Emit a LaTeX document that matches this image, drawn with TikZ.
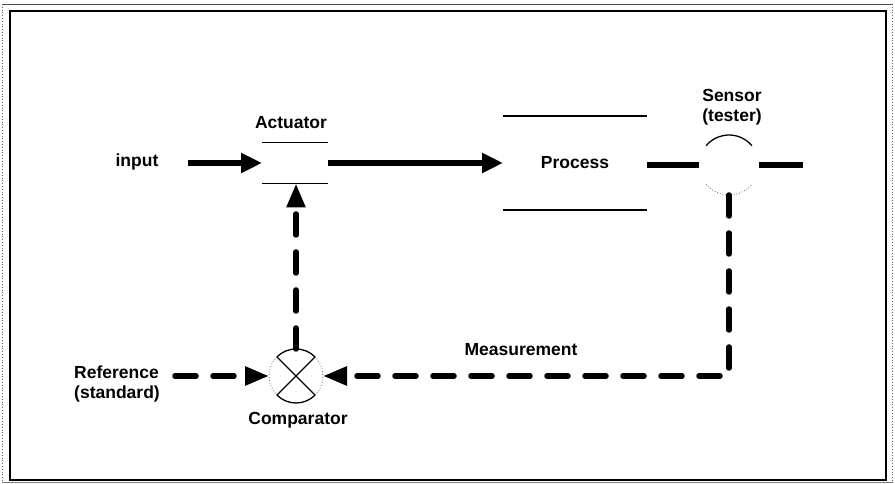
\documentclass[tikz,border=0pt]{standalone}
\usepackage{fontspec}
\setmainfont{Liberation Sans}
\usetikzlibrary{arrows.meta}
\begin{document}
\begin{tikzpicture}[x=1pt,y=1pt,
  lbl/.style={font=\fontsize{17.5}{20}\selectfont\bfseries, inner sep=0pt},
  flow/.style={line width=5.5pt, -{Triangle[length=21pt,width=19pt]}},
  fb/.style={line width=5.5pt, line cap=round, dash pattern=on 21pt off 17pt,
             -{Triangle[length=24pt,width=18pt]}},
  thinline/.style={line width=1.3pt},
  faint/.style={line width=0.8pt, dotted, black!60},
  blk/.style={inner sep=0pt, outer sep=0pt},
  ring/.style={circle, inner sep=0pt, outer sep=0pt}]
\useasboundingbox (0,0) rectangle (895,484);

% page frame
\draw[line width=1.6pt] (10,473) rectangle (886,4);
\draw[line width=0.8pt, black!70] (2,480) -- (893,480);
\draw[line width=0.6pt, black!50] (2,1.5) -- (893,1.5);
\draw[faint] (2.5,480) -- (2.5,2);
\draw[faint] (892.5,480) -- (892.5,2);

% blocks
\node[blk, minimum width=66pt, minimum height=41pt] (act) at (295,321) {};
\draw[thinline] (act.north west) -- (act.north east);
\draw[thinline] (act.south west) -- (act.south east);
\node[lbl] (actlbl) at (291,361) {Actuator};

\node[blk, minimum width=144pt, minimum height=94pt] (proc) at (575,321) {};
\draw[thinline] (proc.north west) -- (proc.north east);
\draw[thinline] (proc.south west) -- (proc.south east);
\node[lbl] (proclbl) at (proc.center) {Process};

\node[ring, minimum size=60pt] (sens) at (729,319) {};
\draw[thinline] (sens.40) arc[start angle=40, end angle=140, radius=30pt];
\draw[faint] (sens.220) arc[start angle=220, end angle=320, radius=30pt];
\node[lbl, align=center] (senslbl) at (732,377) {Sensor\\(tester)};

\node[ring, minimum size=54pt] (comp) at (296,108) {};
\draw[thinline] (comp.45) arc[start angle=45, end angle=135, radius=27pt];
\draw[thinline] (comp.225) arc[start angle=225, end angle=315, radius=27pt];
\draw[faint] (comp.135) arc[start angle=135, end angle=225, radius=27pt];
\draw[faint] (comp.-45) arc[start angle=-45, end angle=45, radius=27pt];
\draw[thinline] (comp.45) -- (comp.225);
\draw[thinline] (comp.135) -- (comp.315);
\node[lbl] (complbl) at (298,64) {Comparator};

% labels
\node[lbl] (inlbl) at (137,322) {input};
\node[lbl, align=left] (reflbl) at (117,100) {Reference\\(standard)};
\node[lbl] (measlbl) at (521,134) {Measurement};

% free ends
\coordinate (instart) at (188,321);
\coordinate (out) at (803,319);
\coordinate (refstart) at (175,108);

% forward path
\draw[flow] (instart) -- (act.west);
\draw[flow] (act.east) -- (proc.west);
\draw[line width=5.5pt] (sens.west -| proc.east) -- (sens.west);
\draw[line width=5.5pt] (sens.east) -- (out);

% feedback path
\draw[fb] (sens.south) -- (sens.south |- comp.east) -- (comp.east);
\draw[fb] (refstart) -- (comp.west);
\draw[fb] (comp.north) -- (comp.north |- act.south);
\end{tikzpicture}
\end{document}
